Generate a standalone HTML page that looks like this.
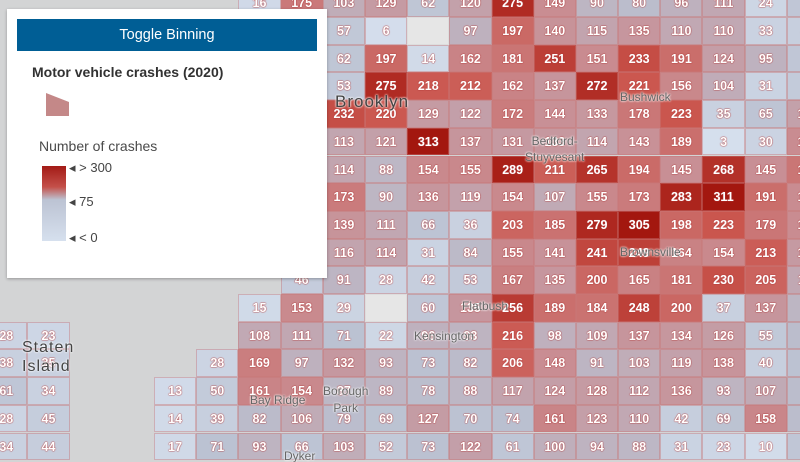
<!DOCTYPE html>
<html style="width:800px;height:462px;overflow:hidden"><head><meta charset="utf-8"><style>
html,body{margin:0;width:800px;height:462px;overflow:hidden}
body{background:#d3d4d5;font-family:"Liberation Sans",sans-serif;position:relative}
.r{position:absolute;display:flex;height:27.7px}
.r b{display:block;width:42.2px;height:27.7px;box-sizing:border-box;border:1px solid rgba(200,120,120,.45);line-height:27px;text-align:center;font-size:12.5px;font-weight:bold;color:#fff;text-shadow:0 0 1.5px #b23a3a,0 0 1px #b23a3a}
.r b.e{background:#e6e6e6;border-color:#ddd}
.lb{position:absolute;color:#666;font-size:13px;text-shadow:0 0 2px #fff,0 0 2px #fff;white-space:nowrap}
#panel{position:absolute;left:7px;top:9px;width:320px;height:269px;background:#fff;box-shadow:0 1px 3px rgba(0,0,0,.3)}
</style></head><body>
<div class="r" style="top:-10.7px;left:238.4px"><b>16</b><b>175</b><b>103</b><b>129</b><b>62</b><b>120</b><b>275</b><b>149</b><b>90</b><b>80</b><b>96</b><b>111</b><b>24</b><b>60</b></div>
<div class="r" style="top:17px;left:322.8px"><b>57</b><b>6</b><b class="e"></b><b>97</b><b>197</b><b>140</b><b>115</b><b>135</b><b>110</b><b>110</b><b>33</b><b>40</b></div>
<div class="r" style="top:44.7px;left:322.8px"><b>62</b><b>197</b><b>14</b><b>162</b><b>181</b><b>251</b><b>151</b><b>233</b><b>191</b><b>124</b><b>95</b><b>60</b></div>
<div class="r" style="top:72.4px;left:322.8px"><b>53</b><b>275</b><b>218</b><b>212</b><b>162</b><b>137</b><b>272</b><b>221</b><b>156</b><b>104</b><b>31</b><b>50</b></div>
<div class="r" style="top:100.1px;left:322.8px"><b>232</b><b>220</b><b>129</b><b>122</b><b>172</b><b>144</b><b>133</b><b>178</b><b>223</b><b>35</b><b>65</b><b>120</b></div>
<div class="r" style="top:127.8px;left:322.8px"><b>113</b><b>121</b><b>313</b><b>137</b><b>131</b><b>133</b><b>114</b><b>143</b><b>189</b><b>3</b><b>30</b><b>150</b></div>
<div class="r" style="top:155.5px;left:322.8px"><b>114</b><b>88</b><b>154</b><b>155</b><b>289</b><b>211</b><b>265</b><b>194</b><b>145</b><b>268</b><b>145</b><b>180</b></div>
<div class="r" style="top:183.2px;left:322.8px"><b>173</b><b>90</b><b>136</b><b>119</b><b>154</b><b>107</b><b>155</b><b>173</b><b>283</b><b>311</b><b>191</b><b>150</b></div>
<div class="r" style="top:210.9px;left:322.8px"><b>139</b><b>111</b><b>66</b><b>36</b><b>203</b><b>185</b><b>279</b><b>305</b><b>198</b><b>223</b><b>179</b><b>150</b></div>
<div class="r" style="top:238.6px;left:322.8px"><b>116</b><b>114</b><b>31</b><b>84</b><b>155</b><b>141</b><b>241</b><b>249</b><b>164</b><b>154</b><b>213</b><b>130</b></div>
<div class="r" style="top:266.3px;left:280.6px"><b>46</b><b>91</b><b>28</b><b>42</b><b>53</b><b>167</b><b>135</b><b>200</b><b>165</b><b>181</b><b>230</b><b>205</b><b>110</b></div>
<div class="r" style="top:294px;left:238.4px"><b>15</b><b>153</b><b>29</b><b class="e"></b><b>60</b><b>135</b><b>256</b><b>189</b><b>184</b><b>248</b><b>200</b><b>37</b><b>137</b><b>90</b></div>
<div class="r" style="top:321.7px;left:238.4px"><b>108</b><b>111</b><b>71</b><b>22</b><b>96</b><b>93</b><b>216</b><b>98</b><b>109</b><b>137</b><b>134</b><b>126</b><b>55</b><b>80</b></div>
<div class="r" style="top:349.4px;left:196.2px"><b>28</b><b>169</b><b>97</b><b>132</b><b>93</b><b>73</b><b>82</b><b>206</b><b>148</b><b>91</b><b>103</b><b>119</b><b>138</b><b>40</b><b>70</b></div>
<div class="r" style="top:377.1px;left:154px"><b>13</b><b>50</b><b>161</b><b>154</b><b>87</b><b>89</b><b>78</b><b>88</b><b>117</b><b>124</b><b>128</b><b>112</b><b>136</b><b>93</b><b>107</b><b>80</b></div>
<div class="r" style="top:404.8px;left:154px"><b>14</b><b>39</b><b>82</b><b>106</b><b>79</b><b>69</b><b>127</b><b>70</b><b>74</b><b>161</b><b>123</b><b>110</b><b>42</b><b>69</b><b>158</b><b>80</b></div>
<div class="r" style="top:432.5px;left:154px"><b>17</b><b>71</b><b>93</b><b>66</b><b>103</b><b>52</b><b>73</b><b>122</b><b>61</b><b>100</b><b>94</b><b>88</b><b>31</b><b>23</b><b>10</b><b>60</b></div>
<div class="r" style="top:321.7px;left:-14.8px"><b>28</b><b>23</b></div>
<div class="r" style="top:349.4px;left:-14.8px"><b>38</b><b>35</b></div>
<div class="r" style="top:377.1px;left:-14.8px"><b>61</b><b>34</b></div>
<div class="r" style="top:404.8px;left:-14.8px"><b>28</b><b>45</b></div>
<div class="r" style="top:432.5px;left:-14.8px"><b>34</b><b>44</b></div>

<div class="lb" style="left:335px;top:92px;font-size:17px;color:#444;letter-spacing:1px">Brooklyn</div>
<div class="lb" style="left:22px;top:338px;font-size:16px;color:#444;letter-spacing:1px;line-height:19px">Staten<br>Island</div>
<div class="lb" style="left:620px;top:90px;font-size:12px">Bushwick</div>
<div class="lb" style="left:525px;top:133px;font-size:12px;text-align:center;line-height:16px">Bedford-<br>Stuyvesant</div>
<div class="lb" style="left:620px;top:245px;font-size:12px">Brownsville</div>
<div class="lb" style="left:462px;top:299px;font-size:12px">Flatbush</div>
<div class="lb" style="left:414px;top:329px;font-size:12px">Kensington</div>
<div class="lb" style="left:323px;top:383px;font-size:12px;text-align:center;line-height:17px">Borough<br>Park</div>
<div class="lb" style="left:250px;top:393px;font-size:12px">Bay Ridge</div>
<div class="lb" style="left:284px;top:449px;font-size:12px">Dyker</div>

<div id="panel">
 <div style="position:absolute;left:10px;top:10px;width:300px;height:32px;background:#005e95;color:#fff;font-size:14.5px;text-align:center;line-height:32px">Toggle Binning</div>
 <div style="position:absolute;left:25px;top:55px;font-size:14px;font-weight:bold;color:#323232">Motor vehicle crashes (2020)</div>
 <svg style="position:absolute;left:39px;top:84px" width="24" height="24"><polygon points="0,0 23,9 23,23 0,23" fill="#c48888"/></svg>
 <div style="position:absolute;left:32px;top:129px;font-size:14px;color:#4a4a4a">Number of crashes</div>
 <div style="position:absolute;left:35px;top:157px;width:24px;height:75px;background:linear-gradient(#a31b16 0%,#c4504a 28%,#bcc3d3 45%,#d6e0ee 100%)"></div>
 <div style="position:absolute;left:62px;top:151px;font-size:13px;color:#444;line-height:16px">◂ &gt; 300</div>
 <div style="position:absolute;left:62px;top:185px;font-size:13px;color:#444;line-height:16px">◂ 75</div>
 <div style="position:absolute;left:62px;top:221px;font-size:13px;color:#444;line-height:16px">◂ &lt; 0</div>
</div>
<script>
var st=[[0,[214,224,238]],[75,[186,192,208]],[150,[201,140,145]],[220,[203,88,80]],[300,[163,23,15]]];
function col(v){if(v>=300)return st[4][1];for(var i=0;i<4;i++){var a=st[i],b=st[i+1];if(v<=b[0]){var t=(v-a[0])/(b[0]-a[0]);return a[1].map(function(x,k){return Math.round(x+(b[1][k]-x)*t)})}}}
document.querySelectorAll('.r b').forEach(function(e){if(e.className)return;var v=parseInt(e.textContent);var c=col(v);e.style.background='rgb('+c.join(',')+')';});
</script>
</body></html>
